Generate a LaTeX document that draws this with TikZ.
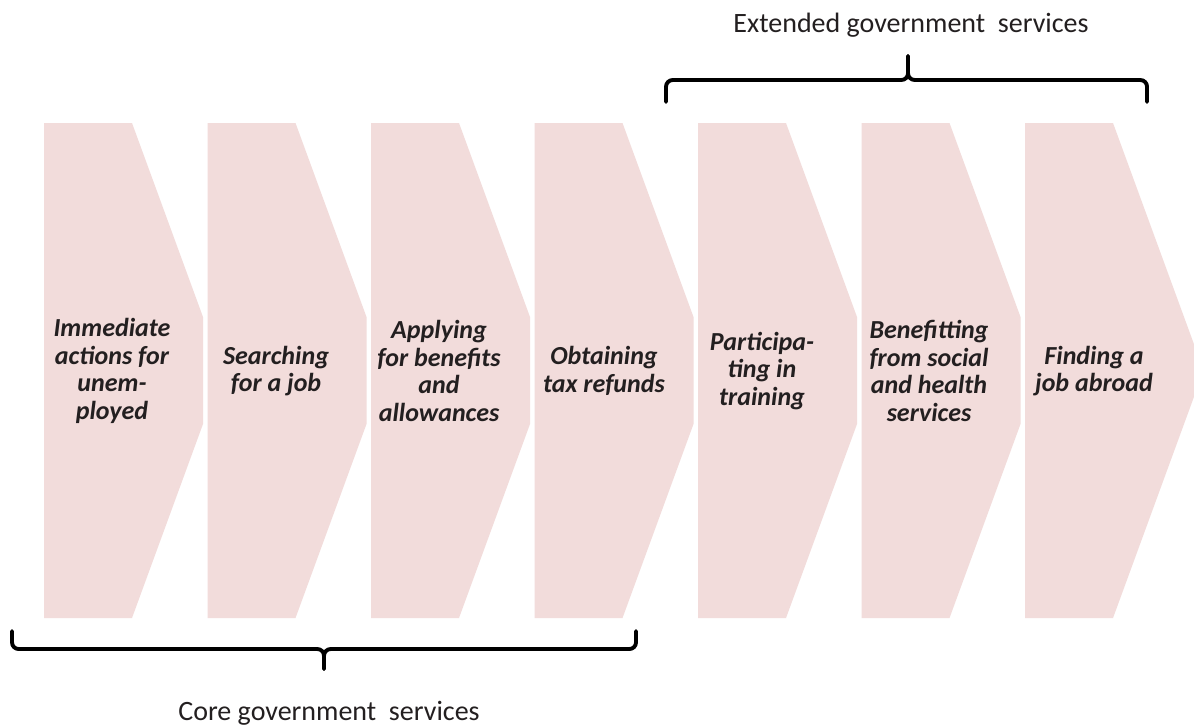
\documentclass[tikz,border=0pt]{standalone}
\usepackage{fontspec}
\setmainfont{Carlito}
\definecolor{chev}{HTML}{F2DCDB}
\definecolor{txt}{HTML}{231F20}
\begin{document}
\begin{tikzpicture}[x=0.75pt,y=-0.75pt,
  chevfill/.style={fill=chev,draw=none},
  steptext/.style={align=center,text=txt,inner sep=0pt,
    font=\fontsize{19.5}{20.7}\selectfont\bfseries\itshape},
  brace/.style={draw=black,line width=2.9pt,rounded corners=5pt,line cap=round},
  grouplabel/.style={text=txt,inner sep=0pt,font=\fontsize{21}{25}\selectfont}]
\clip (0,0) rectangle (1194,726);
\fill[white] (0,0) rectangle (1194,726);
% chevrons
\foreach \i in {0,...,5}{
  \pgfmathsetmacro{\L}{44+163.5*\i}
  \fill[chevfill] (\L,123) -- (\L+88,123) -- (\L+159,317) -- (\L+159,424) -- (\L+88,618) -- (\L,618) -- cycle;
}
\fill[chevfill] (1025,123) -- (1113,123) -- (1203.6,370.5) -- (1113,618) -- (1025,618) -- cycle;
% texts
\node[steptext] (s1) at (112,371) {Immediate\\actions for\\unem-\\ployed};
\node[steptext] (s2) at (276,371) {Searching\\for a job};
\node[steptext] (s3) at (439,371) {Applying\\for benefits\\and\\allowances};
\node[steptext] (s4) at (604,371) {Obtaining\\tax refunds};
\node[steptext] (s5) at (762,371) {Participa-\\ting in\\training};
\node[steptext] (s6) at (929,371) {Benefitting\\from social\\and health\\services};
\node[steptext] (s7) at (1094,371) {Finding a\\job abroad};
% braces
\coordinate (bl) at (12,631);
\coordinate (br) at (636,631);
\coordinate (bt) at (324,669);
\path[brace] (bl) -- (12,649) -- (324,649) -- (bt);
\path[brace] (br) -- (636,649) -- (324,649) -- (bt);
\coordinate (tl) at (666,102);
\coordinate (tr) at (1147,102);
\coordinate (tt) at (908,56);
\path[brace] (tl) -- (666,80) -- (908,80) -- (tt);
\path[brace] (tr) -- (1147,80) -- (908,80) -- (tt);
% labels
\node[grouplabel] (core) at (329,713) {Core government\ \ services};
\node[grouplabel] (ext) at (911,25) {Extended government\ \ services};
\end{tikzpicture}
\end{document}
